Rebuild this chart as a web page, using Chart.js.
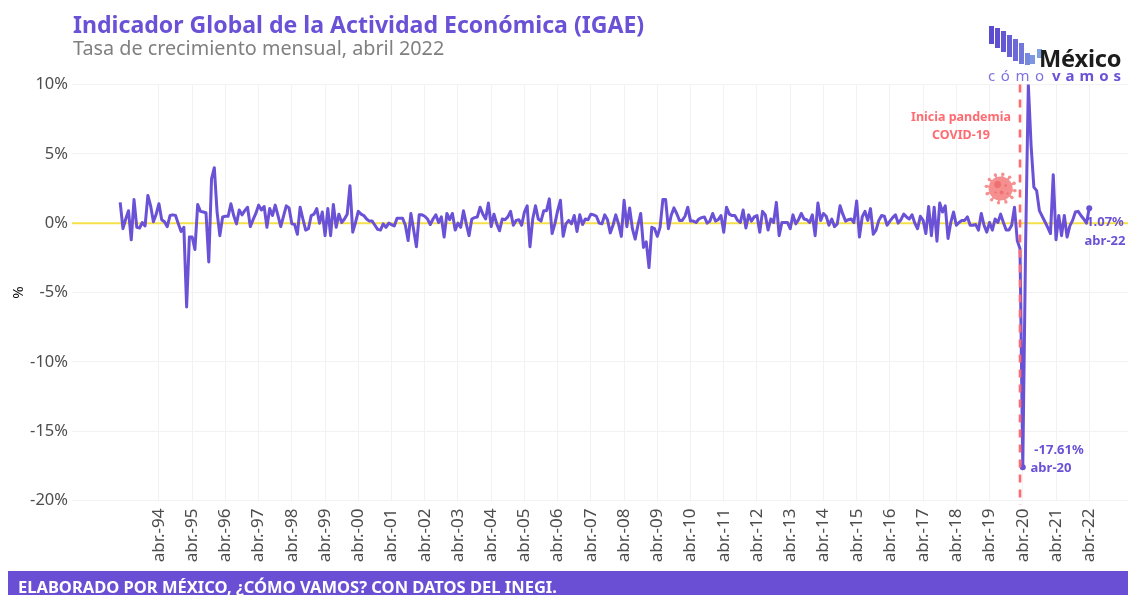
<!DOCTYPE html>
<html lang="es">
<head>
<meta charset="utf-8">
<title>IGAE</title>
<script src="https://cdn.jsdelivr.net/npm/chart.js@4/dist/chart.umd.min.js"></script>
<style>
html,body{margin:0;padding:0;background:#fff;width:1128px;height:595px;overflow:hidden;font-family:"Noto Sans",sans-serif}
#c{position:absolute;left:0;top:0}
.abs{position:absolute;white-space:nowrap}
#t{left:73px;top:7px;font-size:23.1px;font-weight:700;color:#6a51d6;line-height:34px}
#s{left:73px;top:35px;font-size:19.8px;color:#808080;line-height:26px}
#f{left:8px;top:571px;width:1120px;height:24px;background:#6a4fd4}
#ft{left:18px;top:575px;font-size:16.5px;font-weight:700;color:#fff;line-height:24px}
.b{position:absolute;width:4.5px}
#lm{left:1039px;top:42px;font-size:23.6px;font-weight:700;color:#1c1c1c;line-height:32px;letter-spacing:-.2px}
#lc{left:988px;top:65px;font-size:15px;color:#7f73e0;letter-spacing:5.6px;line-height:20px}
#lv{left:1052px;top:65px;font-size:15px;font-weight:700;color:#6a51d6;letter-spacing:5px;line-height:20px}
</style>
</head>
<body>
<canvas id="c" width="1128" height="595"></canvas>
<div class="abs" id="t">Indicador Global de la Actividad Económica (IGAE)</div>
<div class="abs" id="s">Tasa de crecimiento mensual, abril 2022</div>
<div id="logo">
<div class="b" style="left:989px;top:26px;height:18px;background:#5b4bd0"></div>
<div class="b" style="left:995px;top:28px;height:20px;background:#5f50d2"></div>
<div class="b" style="left:1001px;top:31px;height:21px;background:#6357d4"></div>
<div class="b" style="left:1007px;top:35px;height:22px;background:#675fd6"></div>
<div class="b" style="left:1013px;top:39px;height:22px;background:#6c69d9"></div>
<div class="b" style="left:1019px;top:43px;height:21px;background:#7277dc"></div>
<div class="b" style="left:1025px;top:53px;height:12px;background:#7888de"></div>
<div class="b" style="left:1030px;top:55px;height:9px;background:#7c96e0"></div>
<div class="b" style="left:1037px;top:49px;height:9px;background:#7fa3e2"></div>
<div class="abs" id="lm">México</div>
<div class="abs" id="lc">cómo</div>
<div class="abs" id="lv">vamos</div>
</div>
<div class="abs" id="f"></div>
<div class="abs" id="ft">ELABORADO POR MÉXICO, ¿CÓMO VAMOS? CON DATOS DEL INEGI.</div>
<script>
// Monthly growth (%), Feb 1993 .. Apr 2022
const y1993=[1.5,-0.4,0.3,0.9,-1.2,1.7,-0.3,-0.35,0.05,-0.2,2.0];
const y1994=[1.25,0.1,0.65,1.4,0.25,0.1,-0.25,0.55,0.6,0.55,-0.05,-0.6];
const y1995=[-0.3,-6.05,-1.0,-1.0,-1.9,1.35,0.85,0.8,0.75,-2.8,3.2,4.0];
const y1996=[0.8,-0.9,0.45,0.5,0.5,1.4,0.55,-0.05,0.95,0.6,0.9,1.15];
const y1997=[-0.25,0.25,0.7,1.3,0.95,1.2,-0.3,1.05,0.55,1.3,0.55,-0.25];
const y1998=[0.5,1.25,1.1,-0.05,-0.1,-0.8,1.15,0.3,-0.5,-0.4,0.55,0.65];
const y1999=[1.05,0,0.8,-0.9,1.05,-0.9,1.35,-0.3,0.65,0.05,0.3,0.65];
const y2000=[2.7,-0.65,0.05,0.85,0.65,0.55,0.3,0.15,0.15,-0.15,-0.45,-0.5];
const y2001=[-0.05,-0.3,0,-0.1,-0.2,0.35,0.35,0.35,-0.15,-1.25,0.7,-0.5];
const y2002=[-1.7,0.6,0.6,0.5,0.3,-0.1,0.3,0.6,0.05,0.45,-1.0,0.7];
const y2003=[0.25,0.7,-0.5,0,-0.3,0.9,-0.05,-0.9,0.3,0.4,0.45,1.15];
const y2004=[0.65,0.3,1.45,-0.25,0.65,-0.05,-0.55,0.3,0.25,0.45,0.85,-0.15];
const y2005=[0.2,0.25,-0.15,0.8,1.25,-1.7,0.3,1.25,0.3,0.15,0.9,0.9];
const y2006=[1.75,-0.75,-0.05,0.9,1.65,-0.95,-0.05,0.2,-0.05,0.55,-0.6,0.6];
const y2007=[-0.1,0.3,0.25,0.65,0.6,0.5,0,-0.05,0.6,0.25,-0.7,-0.15];
const y2008=[0.6,-0.05,-0.95,1.65,-0.25,1.1,-0.4,-1.15,-0.15,0.7,-1.75,-1.35];
const y2009=[-3.2,-0.3,-0.4,-0.95,-0.3,1.7,1.7,-0.4,0.55,1.1,0.7,0.2];
const y2010=[0.2,0.5,1.15,0.15,0.15,0.05,0.3,0.4,0.45,0,0.15,0.7];
const y2011=[0.15,0.25,0.55,-0.65,1.15,0.65,0.55,0.55,0.2,0.05,0.95,-0.35];
const y2012=[0.6,0.15,0.45,0.55,-0.65,0.85,0.6,-0.5,0.3,0.05,1.5,-0.9];
const y2013=[0.05,0.05,0.05,-0.4,0.6,-0.05,0.25,0.7,0.3,0.25,0.05,0.6];
const y2014=[-0.9,1.45,0.2,0.7,0.5,-0.15,0.3,-0.25,-0.05,1.25,0.65,0.15];
const y2015=[0.25,0.3,0.05,1.6,-1.0,0.45,0.85,0.2,1.05,-0.8,-0.5,0.2];
const y2016=[0.55,0.5,-0.15,0.15,0.4,0.6,0,0.25,0.65,0.45,0.3,0.6];
const y2017=[0,-0.4,0.5,0.2,-0.75,1.2,-0.9,1.15,-1.3,1.45,0.8,1.25];
const y2018=[-1.1,0.05,0.8,-0.15,0.05,0.2,0.2,0.45,-0.15,-0.15,-0.1,-0.5];
const y2019=[0.7,-0.15,-0.65,0.05,-0.5,0.3,0.05,0.65,0.05,-0.5,-0.5,-0.15];
const y2020=[1.15,-1.25,-1.85,-17.61,-1.8,10,5.6,2.6,2.35,0.9,0.5,0.1];
const y2021=[-0.3,-0.75,3.5,-1.2,0.55,-0.9,0.55,-1.0,-0.2,0.2,0.8,0.85];
const y2022=[0.55,0.3,0,1.07];
const igae=[].concat(y1993,y1994,y1995,y1996,y1997,y1998,y1999,y2000,y2001,y2002,y2003,y2004,y2005,y2006,y2007,y2008,y2009,y2010,y2011,y2012,y2013,y2014,y2015,y2016,y2017,y2018,y2019,y2020,y2021,y2022);

const tickIndex=[14,26,38,50,62,74,86,98,110,122,134,146,158,170,182,194,206,218,230,242,254,266,278,290,302,314,326,338,350];
const tickLabels=["abr.-94","abr.-95","abr.-96","abr.-97","abr.-98","abr.-99","abr.-00","abr.-01","abr.-02","abr.-03","abr.-04","abr.-05","abr.-06","abr.-07","abr.-08","abr.-09","abr.-10","abr.-11","abr.-12","abr.-13","abr.-14","abr.-15","abr.-16","abr.-17","abr.-18","abr.-19","abr.-20","abr.-21","abr.-22"];
const highlightIndex=[326,350];
const pandemicIndex=325;
const virusAt={x:318,y:2.5};
const xMin=-17.4, xMax=364;

const PURPLE='#6a51d6', RED='#ff6b70';
const FONT='"Noto Sans",sans-serif';

const overlay={
  id:'overlay',
  afterDatasetsDraw(chart){
    const {ctx,scales:{x,y}}=chart;
    ctx.save();
    // pandemic marker
    const px=x.getPixelForValue(pandemicIndex);
    ctx.strokeStyle=RED; ctx.lineWidth=2.6; ctx.setLineDash([8,7]);
    ctx.beginPath(); ctx.moveTo(px,y.getPixelForValue(10)); ctx.lineTo(px,y.getPixelForValue(-20.3)); ctx.stroke();
    ctx.setLineDash([]);
    // virus
    const vx=x.getPixelForValue(virusAt.x), vy=y.getPixelForValue(virusAt.y);
    ctx.fillStyle='#f68f8f'; ctx.strokeStyle='#f68f8f'; ctx.lineWidth=2;
    for(let k=0;k<12;k++){
      const a=k*Math.PI/6+0.15, c=Math.cos(a), s=Math.sin(a);
      ctx.beginPath(); ctx.moveTo(vx+c*11,vy+s*11); ctx.lineTo(vx+c*14.5,vy+s*14.5); ctx.stroke();
      ctx.beginPath(); ctx.arc(vx+c*14.5,vy+s*14.5,1.7,0,7); ctx.fill();
    }
    ctx.beginPath(); ctx.arc(vx,vy,12,0,7); ctx.fill();
    ctx.fillStyle='#ee7070';
    [[-3,-4,3.4],[1,4,1.9],[5,-3,1.3],[-5,4,1.1],[7,5,1.1]].forEach(d=>{ctx.beginPath();ctx.arc(vx+d[0],vy+d[1],d[2],0,7);ctx.fill();});
    // labels
    ctx.textBaseline='middle'; ctx.textAlign='center';
    ctx.font='700 12.5px '+FONT; ctx.fillStyle=RED;
    ctx.fillText('Inicia pandemia',961,117);
    ctx.fillText('COVID-19',961,135);
    ctx.font='700 13px '+FONT; ctx.fillStyle=PURPLE;
    ctx.fillText('1.07%',1105,222);
    ctx.fillText('abr-22',1105,241);
    ctx.fillText('-17.61%',1059,450);
    ctx.fillText('abr-20',1051,468);
    ctx.restore();
  }
};

new Chart(document.getElementById('c'),{
  type:'line',
  data:{datasets:[
    {label:'base',data:[{x:xMin,y:0},{x:xMax,y:0}],borderColor:'#f5e04a',borderWidth:2,pointRadius:0,order:3},
    {label:'IGAE',data:igae.map((v,i)=>({x:i,y:v})),borderColor:PURPLE,borderWidth:3,pointRadius:0,tension:0,order:2,borderJoinStyle:'round'},
    {label:'marca',data:highlightIndex.map(i=>({x:i,y:igae[i]})),showLine:false,pointRadius:3,pointBackgroundColor:PURPLE,pointBorderWidth:0,order:1,clip:false}
  ]},
  options:{
    responsive:false,animation:false,devicePixelRatio:1,
    layout:{autoPadding:false,padding:{top:84.5,left:0,right:0,bottom:0}},
    plugins:{legend:{display:false},tooltip:{enabled:false},title:{display:false}},
    scales:{
      x:{type:'linear',min:xMin,max:xMax,
        afterBuildTicks(s){s.ticks=tickIndex.map(v=>({value:v}));},
        afterFit(s){s.height=94.5;},
        grid:{color:'#f2f2f2',lineWidth:1,drawTicks:false},
        border:{display:false},
        ticks:{autoSkip:false,minRotation:90,maxRotation:90,padding:8,color:'#4d4d4d',font:{family:FONT,size:17},
          callback(v){const i=tickIndex.indexOf(v);return i<0?'':tickLabels[i];}}
      },
      y:{min:-20,max:10,
        afterFit(s){s.width=72;},
        grid:{color:'#f2f2f2',lineWidth:1,drawTicks:false},
        border:{display:false},
        title:{display:true,text:'%',color:'#111',font:{family:FONT,size:15},padding:{top:10,bottom:0}},
        ticks:{stepSize:5,padding:4,color:'#4d4d4d',font:{family:FONT,size:16.5},callback:v=>v+'%'}
      }
    }
  },
  plugins:[overlay]
});
</script>
</body>
</html>
